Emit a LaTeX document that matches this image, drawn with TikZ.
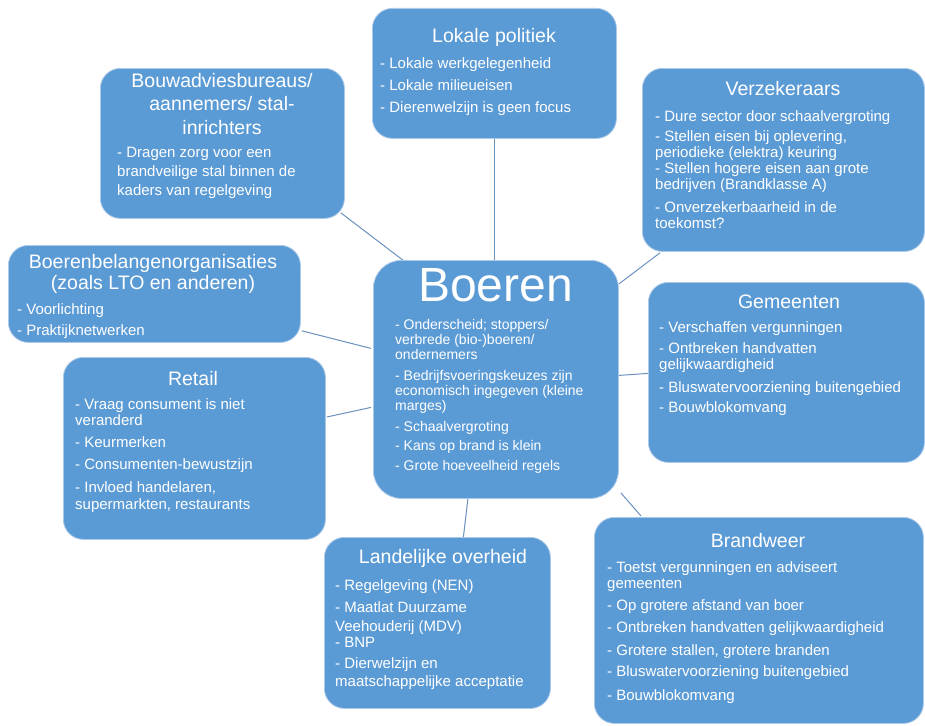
\documentclass[tikz,border=0pt]{standalone}
\usepackage{fontspec}
\setmainfont{Liberation Sans}
\usetikzlibrary{calc}
\pgfdeclarelayer{bg}
\pgfsetlayers{bg,main}
\definecolor{boxblue}{RGB}{91,155,213}
\definecolor{boxrim}{RGB}{170,200,232}
\definecolor{linkc}{RGB}{105,145,190}
\tikzset{
  box/.style={rectangle, rounded corners=20pt, fill=boxblue, draw=boxrim, line width=0.8pt, inner sep=0pt, anchor=north west},
  ttl/.style={text=white, font=\fontsize{19.5}{23.3}\selectfont, inner sep=0pt, align=center},
  body/.style={text=white, font=\fontsize{15}{16}\selectfont, inner sep=0pt, align=left, anchor=north west},
  smallbody/.style={text=white, font=\fontsize{14}{14.5}\selectfont, inner sep=0pt, align=left, anchor=north west},
  link/.style={draw=linkc, line width=1pt}
}
\newcommand{\fs}{\rule{0pt}{12pt}}
\begin{document}
\begin{tikzpicture}[x=1pt,y=-1pt]
\useasboundingbox (0,0) rectangle (925,725);

% boxes
\node[box, minimum width=244, minimum height=130] (lp) at (372,8) {};
\node[box, minimum width=244, minimum height=150] (bw) at (100,68) {};
\node[box, minimum width=282, minimum height=183] (vz) at (642,68) {};
\node[box, minimum width=292, minimum height=97] (bb) at (8,245) {};
\node[box, rounded corners=28pt, minimum width=245, minimum height=238] (boer) at (373,260) {};
\node[box, minimum width=276, minimum height=180] (gm) at (648,282) {};
\node[box, minimum width=262, minimum height=182] (rt) at (63,357) {};
\node[box, minimum width=226, minimum height=171] (lo) at (324,537) {};
\node[box, minimum width=329, minimum height=206] (br) at (594,517) {};

% connectors
\begin{pgfonlayer}{bg}
\draw[link] (lp.south) -- (lp.south |- boer.north);
\draw[link] ($(bw.south east)+(-4,-6)$) -- ($(boer.north west)+(31,1)$);
\draw[link] ($(vz.south west)+(18,1)$) -- ($(boer.north east)+(0,24)$);
\draw[link] ($(bb.south east)+(1,-12)$) -- ($(boer.west)+(-2,-31)$);
\draw[link] ($(rt.north east)+(1,60)$) -- ($(boer.west)+(-2,28)$);
\draw[link] ($(boer.east)+(0,-4)$) -- ($(gm.west)+(0,1)$);
\draw[link] ($(lo.north)+(26,0)$) -- ($(boer.south)+(-28,0)$);
\draw[link] ($(boer.south east)+(2,-6)$) -- ($(br.north west)+(47,-1)$);
\end{pgfonlayer}

% Lokale politiek
\node[ttl, anchor=base] (lp-t) at (494,43) {Lokale politiek};
\node[body] (lp-b) at (380,56.3) {\fs- Lokale werkgelegenheid\\[6pt]- Lokale milieueisen\\[6pt]- Dierenwelzijn is geen focus};

% Bouwadvies
\node[ttl, anchor=north] (bw-t) at (222,72.3) {\rule{0pt}{15pt}Bouwadviesbureaus/\\aannemers/ stal-\\inrichters};
\node[body] (bw-b) at (117,145.7) {\fs- Dragen zorg voor een\\[2.6pt]brandveilige stal binnen de\\[2.6pt]kaders van regelgeving};

% Verzekeraars
\node[ttl, anchor=base] (vz-t) at (783,95) {Verzekeraars};
\node[body] (vz-b) at (655,109) {\fs- Dure sector door schaalvergroting\\[4pt]- Stellen eisen bij oplevering,\\[0.7pt]periodieke (elektra) keuring\\- Stellen hogere eisen aan grote\\bedrijven (Brandklasse A)\\[6.7pt]- Onverzekerbaarheid in de\\toekomst?};

% Boerenbelangenorganisaties
\node[ttl, anchor=north, font=\fontsize{19.5}{21}\selectfont] (bb-t) at (153,253.3) {\rule{0pt}{15pt}Boerenbelangenorganisaties\\(zoals LTO en anderen)};
\node[body] (bb-b) at (17,302) {\fs- Voorlichting\\[5pt]- Praktijknetwerken};

% Boeren
\node[ttl, anchor=base, font=\fontsize{48}{50}\selectfont] (boer-t) at (495.5,301.7) {Boeren};
\node[smallbody] (boer-b) at (395,318) {\rule{0pt}{11pt}- Onderscheid; stoppers/\\[0.8pt]verbrede (bio-)boeren/\\ondernemers\\[6.8pt]- Bedrijfsvoeringskeuzes zijn\\[0.8pt]economisch ingegeven (kleine\\marges)\\[7.2pt]- Schaalvergroting\\[4.5pt]- Kans op brand is klein\\[5.5pt]- Grote hoeveelheid regels};

% Gemeenten
\node[ttl, anchor=base] (gm-t) at (789,308.3) {Gemeenten};
\node[body] (gm-b) at (659,320.3) {\fs- Verschaffen vergunningen\\[5pt]- Ontbreken handvatten\\gelijkwaardigheid\\[6.7pt]- Bluswatervoorziening buitengebied\\[4.7pt]- Bouwblokomvang};

% Retail
\node[ttl, anchor=base] (rt-t) at (193,385) {Retail};
\node[body] (rt-b) at (75,397) {\fs- Vraag consument is niet\\veranderd\\[6.4pt]- Keurmerken\\[6.3pt]- Consumenten-bewustzijn\\[6.7pt]- Invloed handelaren,\\[0.6pt]supermarkten, restaurants};

% Landelijke overheid
\node[ttl, anchor=base] (lo-t) at (443,563.3) {Landelijke overheid};
\node[body] (lo-b) at (335,578) {\fs- Regelgeving (NEN)\\[6.7pt]- Maatlat Duurzame\\[2.3pt]Veehouderij (MDV)\\- BNP\\[5.7pt]- Dierwelzijn en\\[2pt]maatschappelijke acceptatie};

% Brandweer
\node[ttl, anchor=base] (br-t) at (758,547.7) {Brandweer};
\node[body] (br-b) at (607,560.3) {\fs- Toetst vergunningen en adviseert\\gemeenten\\[5.7pt]- Op grotere afstand van boer\\[6.3pt]- Ontbreken handvatten gelijkwaardigheid\\[6.7pt]- Grotere stallen, grotere branden\\[5.7pt]- Bluswatervoorziening buitengebied\\[7.3pt]- Bouwblokomvang};
\end{tikzpicture}
\end{document}
